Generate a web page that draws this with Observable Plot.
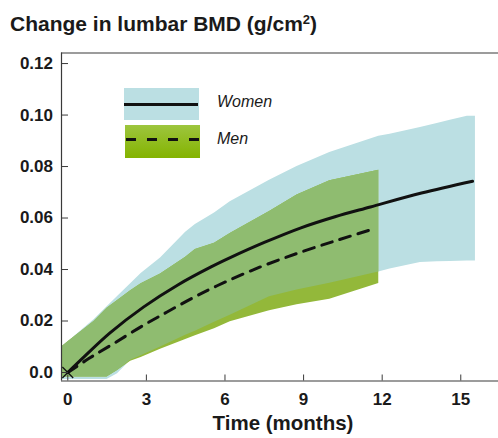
<!DOCTYPE html>
<html>
<head>
<meta charset="utf-8">
<script src="https://cdn.jsdelivr.net/npm/d3@7"></script>
<script src="https://cdn.jsdelivr.net/npm/@observablehq/plot@0.6"></script>
<style>
  html, body { margin: 0; padding: 0; background: #fff; }
  #wrap { position: relative; width: 498px; height: 438px; font-family: "Liberation Sans", Arial, sans-serif; color: #1a1a1a; }
  #title { position: absolute; left: 10px; top: 12px; font-size: 21px; font-weight: bold; white-space: nowrap; }
  #title sup { font-size: 0.62em; vertical-align: 0.55em; line-height: 0; }
  .lg { position: absolute; }
  .lgtext { position: absolute; font-style: italic; font-size: 16px; }
  #chart svg { display: block; }
</style>
</head>
<body>
<div id="wrap">
  <div id="chart"></div>
  <div id="title">Change in lumbar BMD (g/cm<sup>2</sup>)</div>
  <div id="legend"></div>
</div>
<script>
// ---- data ----
const xTicks = [0, 3, 6, 9, 12, 15];
const yTicks = [0, 0.02, 0.04, 0.06, 0.08, 0.10, 0.12];
const yTickLabels = ["0.0", "0.02", "0.04", "0.06", "0.08", "0.10", "0.12"];

// confidence bands on a shared time grid (months)
const bandX   = [-0.2, 0, 1.0, 1.5, 1.9, 2.4, 2.8, 3.54, 4.5, 4.87, 5.6, 6.2, 7.7, 8.75, 10.0, 11.87];
const womenHi = [0.0102, 0.0118, 0.0205, 0.0255, 0.0295, 0.0345, 0.0385, 0.0445, 0.0545, 0.0575, 0.062, 0.0663, 0.0747, 0.080, 0.0855, 0.0918];
const womenLo = [-0.0027, -0.0027, -0.0027, -0.0027, -0.0005, 0.0048, 0.0065, 0.0099, 0.0145, 0.016, 0.0195, 0.0222, 0.0294, 0.032, 0.0347, 0.039];
const menHi   = [0.0102, 0.0118, 0.0198, 0.0250, 0.0280, 0.0318, 0.0345, 0.0383, 0.0448, 0.0478, 0.0502, 0.054, 0.0625, 0.0689, 0.0745, 0.0786];
const menLo   = [-0.0017, -0.0017, -0.0017, -0.0017, 0.0008, 0.0044, 0.0058, 0.009, 0.0128, 0.0143, 0.017, 0.0197, 0.024, 0.0263, 0.0285, 0.0346];
// women band continues after the men's follow-up ends
const womenTailX  = [12.3, 13.46, 14.1, 14.6, 15.25, 15.56];
const womenTailHi = [0.0925, 0.0952, 0.0967, 0.098, 0.0995, 0.0995];
const womenTailLo = [0.0402, 0.0427, 0.043, 0.0431, 0.0433, 0.0433];

// mean curves
const womenMeanX = [0, 0.5, 1.6, 2.9, 4.2, 5.45, 6.2, 7.5, 8.9, 10.2, 11.55, 13.5, 15.45];
const womenMean  = [0, 0.0049, 0.0153, 0.0255, 0.0340, 0.0409, 0.0446, 0.0505, 0.0562, 0.0605, 0.0643, 0.0697, 0.0743];
const menMeanX   = [0, 0.8, 1.76, 2.9, 3.79, 4.81, 5.7, 7.3, 8.88, 10.3, 11.62];
const menMean    = [0, 0.0054, 0.0113, 0.0184, 0.0235, 0.0292, 0.0337, 0.0408, 0.0467, 0.0514, 0.0556];

const origin = [{x: 0, y: 0}];

// ---- colours ----
const cWomen = "#bbdfe3";
const cMen = "#93b83a";
const cOverlap = "#8fbc70";
const cFrame = "#3a3a3a";

// ---- tables ----
const womenBand = bandX.map((x, i) => ({x, lo: womenLo[i], hi: womenHi[i]}))
  .concat(womenTailX.map((x, i) => ({x, lo: womenTailLo[i], hi: womenTailHi[i]})));
const menBand = bandX.map((x, i) => ({x, lo: menLo[i], hi: menHi[i]}));
const overlapBand = bandX.map((x, i) => ({x, lo: Math.max(menLo[i], womenLo[i]), hi: Math.min(menHi[i], womenHi[i])}));
const womenLine = womenMeanX.map((x, i) => ({x, y: womenMean[i]}));
const menLine = menMeanX.map((x, i) => ({x, y: menMean[i]}));

const xDom = [-0.24, 16.44];
const yDom = [-0.0033, 0.1241];
const font = "Liberation Sans, Arial, sans-serif";

const chart = Plot.plot({
  width: 498,
  height: 438,
  marginLeft: 61,
  marginRight: 0,
  marginTop: 52.5,
  marginBottom: 57.5,
  style: {fontFamily: font, color: "#1a1a1a", background: "transparent"},
  x: {domain: xDom, label: null},
  y: {domain: yDom, label: null},
  marks: [
    Plot.areaY(womenBand, {x: "x", y1: "lo", y2: "hi", fill: cWomen, clip: true}),
    Plot.areaY(menBand, {x: "x", y1: "lo", y2: "hi", fill: cMen, clip: true}),
    Plot.areaY(overlapBand, {x: "x", y1: "lo", y2: "hi", fill: cOverlap, clip: true}),
    Plot.line(womenLine, {x: "x", y: "y", stroke: "#111", strokeWidth: 3, curve: "catmull-rom"}),
    Plot.line(menLine, {x: "x", y: "y", stroke: "#111", strokeWidth: 3, strokeDasharray: "11,8", curve: "catmull-rom"}),
    Plot.dot(origin, {x: "x", y: "y", symbol: "times", r: 5, stroke: "#111", strokeWidth: 1.3}),
    // frame: left, top, bottom
    Plot.ruleX([xDom[0]], {stroke: cFrame, strokeWidth: 1.2}),
    Plot.ruleY([yDom[1]], {stroke: cFrame, strokeWidth: 1.2}),
    Plot.ruleY([yDom[0]], {stroke: cFrame, strokeWidth: 1.2}),
    // inward ticks
    Plot.axisX({ticks: xTicks, tickSize: 6, dy: -6, tickFormat: () => "", stroke: cFrame, label: null}),
    Plot.axisY({ticks: yTicks, tickSize: 7, dx: 7, tickFormat: () => "", stroke: cFrame, label: null}),
    // tick labels
    Plot.axisX({ticks: xTicks, tickSize: 0, tickPadding: 12, fontSize: 17, fontWeight: "bold", label: null, tickFormat: d => String(d)}),
    Plot.axisY({ticks: yTicks, tickSize: 0, tickPadding: 8.5, fontSize: 17, fontWeight: "bold", label: null,
      tickFormat: d => yTickLabels[yTicks.findIndex(t => Math.abs(t - d) < 1e-9)]}),
    Plot.text(["Time (months)"], {frameAnchor: "bottom", dy: 49, dx: 3, fontSize: 20.5, fontWeight: "bold", fill: "#1a1a1a"})
  ]
});
document.getElementById("chart").appendChild(chart);

// ---- legend ----
const legend = document.getElementById("legend");
legend.innerHTML = `
  <div class="lg" style="left:124px;top:88px;width:75px;height:32px;background:${cWomen}"></div>
  <div class="lg" style="left:124px;top:102.5px;width:74px;height:3px;background:#111"></div>
  <div class="lgtext" style="left:217px;top:93px">Women</div>
  <div class="lg" style="left:125px;top:125px;width:75px;height:33px;background:linear-gradient(#9dc53e,#84b300)"></div>
  <div class="lg" style="left:126px;top:138px;width:73px;height:3px;background:repeating-linear-gradient(90deg,#111 0 10.5px,transparent 10.5px 21px)"></div>
  <div class="lgtext" style="left:217px;top:130px">Men</div>
`;
</script>
</body>
</html>
